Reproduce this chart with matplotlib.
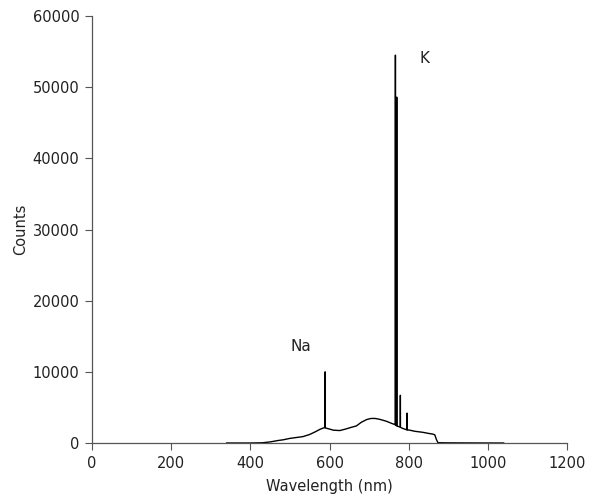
import matplotlib
matplotlib.use("Agg")
import matplotlib.pyplot as plt

plt.rcParams['font.family'] = ['DejaVu Sans']

# Spectrum (wavelength in nm, counts)
wavelength = [340, 400, 430, 450, 460, 470, 483, 500, 520, 533, 550, 565, 575, 584, 587,
              588.8, 589, 589.2, 591, 594, 610, 626, 640, 655, 668, 680, 694, 705, 715, 725,
              735, 744, 755, 762, 765, 766.3, 766.5, 766.7, 769.7, 769.9, 770.1, 772, 775, 778.8,
              779, 779.2, 785, 790, 795.8, 796, 796.2, 803, 815, 836, 850, 861, 866, 870,
              874, 900, 950, 1000, 1040]
counts = [0, 0, 30, 150, 250, 350, 450, 650, 800, 900, 1200, 1600, 1900, 2100, 2150,
          2150, 10000, 2150, 2100, 2050, 1800, 1750, 1950, 2200, 2400, 2900, 3300, 3450, 3450, 3350,
          3200, 3050, 2800, 2650, 2600, 2600, 54500, 2500, 2450, 48600, 2400, 2350, 2300, 2250,
          6700, 2200, 2050, 1950, 1850, 4200, 1850, 1800, 1650, 1500, 1350, 1250, 1150, 500,
          40, 20, 10, 0, 0]

annotations = [("Na", 528, 13600), ("K", 839, 54050)]
xticks = [0, 200, 400, 600, 800, 1000, 1200]
yticks = [0, 10000, 20000, 30000, 40000, 50000, 60000]

fig = plt.figure(figsize=(5.9, 5.0), dpi=100)
ax = fig.add_axes([0.156, 0.114, 0.805, 0.854])
ax.plot(wavelength, counts, color='black', lw=1.0)

for txt, x, y in annotations:
    ax.text(x, y, txt, fontsize=11, ha='center', va='center', color='#222222')

ax.set_xlim(0, 1200)
ax.set_ylim(0, 60000)
ax.set_xticks(xticks)
ax.set_yticks(yticks)
ax.tick_params(direction='out', length=5, width=0.8, pad=4, labelsize=10.5,
               colors='#555555', labelcolor='#222222')
for s in ['top', 'right']:
    ax.spines[s].set_visible(False)
for s in ['left', 'bottom']:
    ax.spines[s].set_color('#555555')
    ax.spines[s].set_linewidth(0.9)

ax.set_xlabel('Wavelength (nm)', fontsize=10.5, color='#222222', labelpad=6)
ax.set_ylabel('Counts', fontsize=10.5, color='#222222', labelpad=3)

fig.savefig('out.png', dpi=100)
